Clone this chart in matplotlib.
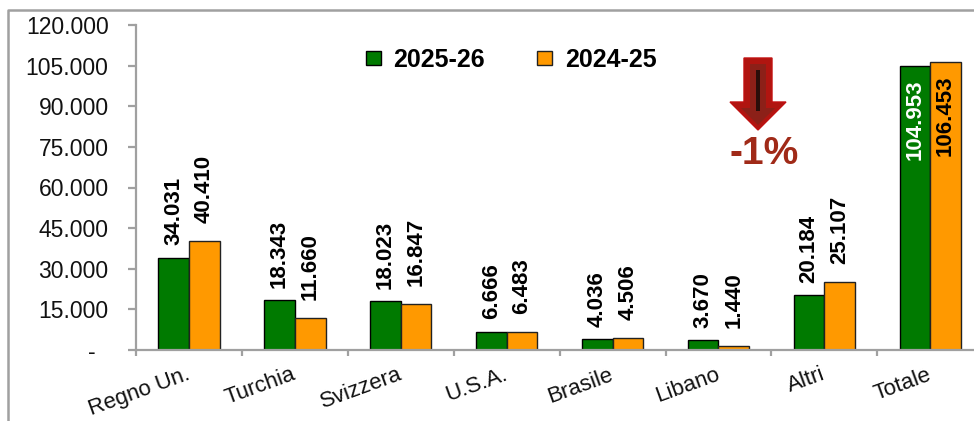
import matplotlib.pyplot as plt
from matplotlib.lines import Line2D
from matplotlib.patches import Polygon, Rectangle

W, H = 974, 421

paesi = ["Regno Un.", "Turchia", "Svizzera", "U.S.A.", "Brasile", "Libano", "Altri", "Totale"]
anno_2025 = [34031, 18343, 18023, 6666, 4036, 3670, 20184, 104953]
anno_2024 = [40410, 11660, 16847, 6483, 4506, 1440, 25107, 106453]
y_ticks = [0, 15000, 30000, 45000, 60000, 75000, 90000, 105000, 120000]
y_labels = ["-  ", "15.000", "30.000", "45.000", "60.000", "75.000", "90.000", "105.000", "120.000"]

VERDE = "#007a00"
ARANCIO = "#ff9900"
GRIGIO = "#a0a0a0"


def formato(v):
    return f"{v:,}".replace(",", ".")


plt.rcParams["font.family"] = ["Liberation Sans", "DejaVu Sans"]

fig = plt.figure(figsize=(W / 100, H / 100), dpi=100)
ax = fig.add_axes([136 / W, 1 - 350 / H, (W - 136) / W, 325 / H])

larg = 0.29
x = list(range(len(paesi)))
ax.bar([i - larg / 2 for i in x], anno_2025, larg, color=VERDE, edgecolor="black", linewidth=1, label="2025-26")
ax.bar([i + larg / 2 for i in x], anno_2024, larg, color=ARANCIO, edgecolor="#222222", linewidth=1, label="2024-25")

ax.set_yticks(y_ticks)
ax.set_yticklabels(y_labels, fontsize=16.5, color="#111111")
ax.set_xticks([i - 0.5 for i in x])
ax.set_xticklabels([])
ax.set_xlim(-0.5, (W - 136) / 105.9 - 0.5)
ax.set_ylim(0, 120000)
ax.tick_params(axis="y", length=5.8, width=1.6, color=GRIGIO, direction="out", pad=14)
ax.tick_params(axis="x", length=4.5, width=1.6, color=GRIGIO, direction="out")

for s in ["top", "right"]:
    ax.spines[s].set_visible(False)
for s in ["left", "bottom"]:
    ax.spines[s].set_color(GRIGIO)
    ax.spines[s].set_linewidth(1.6)

# nomi dei paesi ruotati
for i, nome in enumerate(paesi):
    ax.annotate(nome, (i, 0), xytext=(1.5, -21), textcoords="offset points", rotation=20,
                ha="right", va="baseline", rotation_mode="anchor", fontsize=16, color="#111111")

# etichette sopra le barre
for i in x[:-1]:
    ax.annotate(formato(anno_2025[i]), (i - larg / 2, anno_2025[i]), xytext=(0, 9), textcoords="offset points",
                rotation=90, ha="center", va="bottom", fontsize=16, fontweight="bold")
    ax.annotate(formato(anno_2024[i]), (i + larg / 2, anno_2024[i]), xytext=(0, 13), textcoords="offset points",
                rotation=90, ha="center", va="bottom", fontsize=16, fontweight="bold")

# il totale ha le etichette dentro le barre
ax.annotate(formato(anno_2025[7]), (7 - larg / 2, anno_2025[7]), xytext=(0, -10), textcoords="offset points",
            rotation=90, ha="center", va="top", fontsize=16, fontweight="bold", color="white")
ax.annotate(formato(anno_2024[7]), (7 + larg / 2, anno_2024[7]), xytext=(0, -10), textcoords="offset points",
            rotation=90, ha="center", va="top", fontsize=16, fontweight="bold", color="black")

ax.legend(loc="center", bbox_to_anchor=(511 / W, 1 - 60 / H), bbox_transform=fig.transFigure, ncol=2,
          frameon=False, prop={"size": 18, "weight": "bold"}, handlelength=0.6, handleheight=0.5,
          handletextpad=0.5, columnspacing=2.1)

# livello in pixel per cornice e freccia
over = fig.add_axes([0, 0, 1, 1], facecolor="none")
over.set_xlim(0, W)
over.set_ylim(H, 0)
over.axis("off")

over.add_line(Line2D([8, 8, W], [H, 9.5, 9.5], color=GRIGIO, lw=1.8))

over.add_patch(Polygon([(744, 58), (772, 58), (772, 102), (786, 102), (758, 130), (730, 102), (744, 102)],
                       closed=True, facecolor="#b01510", edgecolor="#c01010", lw=1))
over.add_patch(Polygon([(750, 64), (766, 64), (766, 108), (775, 108), (758, 125), (741, 108), (750, 108)],
                       closed=True, facecolor="#8c2018", edgecolor="none"))
over.add_patch(Rectangle((756, 70), 3.5, 41, facecolor="#2a0e0a", edgecolor="none"))
over.text(764, 154, "-1%", ha="center", va="center", fontsize=28, fontweight="bold", color="#a02a18")

fig.savefig("out.png", dpi=100)
plt.close(fig)
